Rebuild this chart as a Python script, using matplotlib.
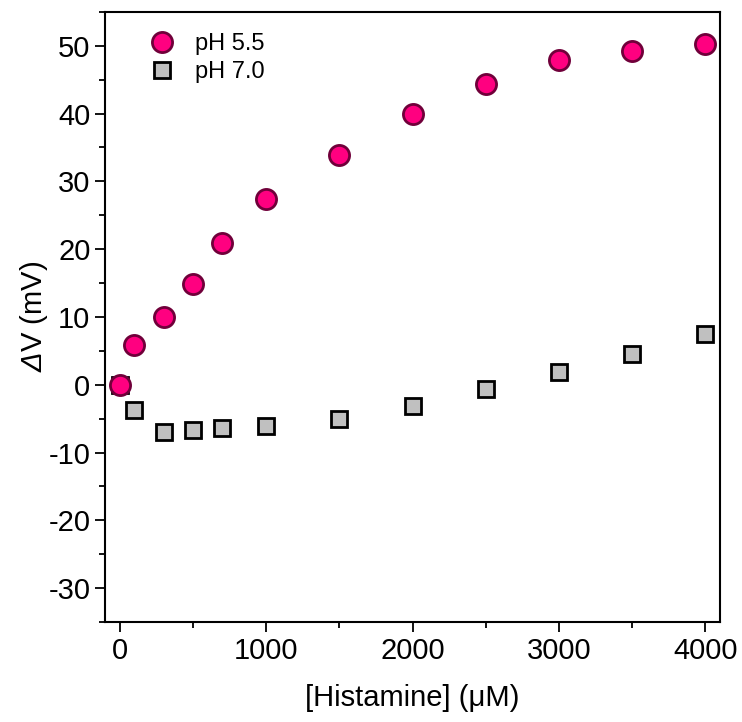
import matplotlib
matplotlib.use("Agg")
import matplotlib.pyplot as plt
from matplotlib.ticker import MultipleLocator

plt.rcParams['font.family'] = ['Liberation Sans', 'DejaVu Sans']
plt.rcParams['axes.unicode_minus'] = False
plt.rcParams['mathtext.fontset'] = 'custom'
plt.rcParams['mathtext.rm'] = 'Liberation Sans:italic'
plt.rcParams['mathtext.it'] = 'Liberation Sans:italic'
plt.rcParams['mathtext.sf'] = 'Liberation Sans'

# Data
conc = [0, 100, 300, 500, 700, 1000, 1500, 2000, 2500, 3000, 3500, 4000]
dv_ph55 = [0, 5.9, 10.0, 14.9, 20.9, 27.4, 33.9, 40.0, 44.4, 47.9, 49.3, 50.3]
dv_ph70 = [0, -3.7, -7.0, -6.7, -6.4, -6.1, -5.0, -3.1, -0.7, 1.9, 4.6, 7.5]

fig = plt.figure(figsize=(7.42, 7.22), dpi=100)
ax = fig.add_axes([0.1415, 0.1385, 0.829, 0.845])

ax.plot(conc, dv_ph70, 's', ms=12, mfc='#c0c0c0', mec='black', mew=2,
        label='pH 7.0', zorder=3)
ax.plot(conc, dv_ph55, 'o', ms=14.5, mfc='#ff0080', mec='#70003a', mew=2,
        label='pH 5.5', zorder=4)

ax.set_xlim(-100, 4100)
ax.set_ylim(-35, 55)
ax.xaxis.set_major_locator(MultipleLocator(1000))
ax.xaxis.set_minor_locator(MultipleLocator(500))
ax.yaxis.set_major_locator(MultipleLocator(10))
ax.yaxis.set_minor_locator(MultipleLocator(5))
ax.tick_params(which='major', direction='out', length=7, width=1.3, labelsize=21)
ax.tick_params(which='minor', direction='out', length=4, width=1.3)
for s in ax.spines.values():
    s.set_linewidth(1.5)

ax.set_xlabel('[Histamine] (μM)', fontsize=21, labelpad=14)
ax.set_ylabel(r'$\Delta\mathsf{V\ (mV)}$', fontsize=21, labelpad=-1)

h, l = ax.get_legend_handles_labels()
ax.legend(h[::-1], l[::-1], loc='upper left', bbox_to_anchor=(0.02, 1.0),
          frameon=False, fontsize=17, handletextpad=0.4, labelspacing=0.25)

fig.savefig('out.png', dpi=100)
